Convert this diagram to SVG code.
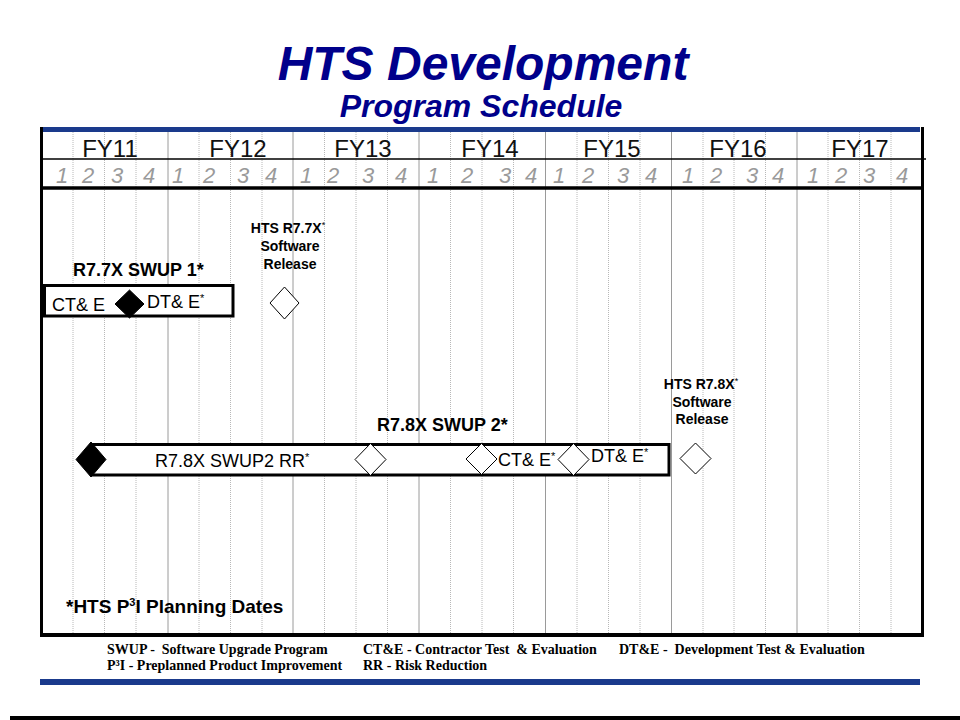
<svg xmlns="http://www.w3.org/2000/svg" width="960" height="720" viewBox="0 0 960 720">
<style>
.title{font-family:"Liberation Sans",Arial,sans-serif;font-weight:bold;font-style:italic;fill:#00008B;text-anchor:middle}
.fy{font-family:"Liberation Sans",Arial,sans-serif;font-size:24px;fill:#111;text-anchor:middle}
.q{font-family:"Liberation Sans",Arial,sans-serif;font-size:22px;font-style:italic;fill:#9a9a9a;text-anchor:middle}
.yl{stroke:#9a9a9a;stroke-width:1}
.ql{stroke:#b8b8b8;stroke-width:1;stroke-dasharray:1,1}
.bt{font-family:"Liberation Sans",Arial,sans-serif;font-weight:bold;font-size:18px;fill:#000}
.lab{font-family:"Liberation Sans",Arial,sans-serif;font-size:18px;fill:#000}
.ms{font-family:"Liberation Sans",Arial,sans-serif;font-weight:bold;font-size:14px;fill:#000;text-anchor:middle}
.leg{font-family:"Liberation Serif","Times New Roman",serif;font-weight:bold;font-size:14px;fill:#000;white-space:pre}
.box{fill:#fff;stroke:#000;stroke-width:3}
.wd{fill:#fff;stroke:#000;stroke-width:1}
.bd{fill:#000;stroke:#000;stroke-width:1}
</style>
<rect width="960" height="720" fill="#fff"/>
<g id="title">
<text class="title" x="483" y="80" font-size="48">HTS Development</text>
<text class="title" x="481" y="117" font-size="32">Program Schedule</text>
</g>
<g id="grid">
<line class="yl" x1="168" y1="132" x2="168" y2="633"/>
<line class="yl" x1="293" y1="132" x2="293" y2="633"/>
<line class="yl" x1="419" y1="132" x2="419" y2="633"/>
<line class="yl" x1="545.5" y1="132" x2="545.5" y2="633"/>
<line class="yl" x1="671.5" y1="132" x2="671.5" y2="633"/>
<line class="yl" x1="797" y1="132" x2="797" y2="633"/>
<g class="ql">
<line x1="73" y1="132" x2="73" y2="633"/><line x1="104.5" y1="132" x2="104.5" y2="633"/><line x1="136" y1="132" x2="136" y2="633"/>
<line x1="199" y1="132" x2="199" y2="633"/><line x1="230.5" y1="132" x2="230.5" y2="633"/><line x1="262" y1="132" x2="262" y2="633"/>
<line x1="324.5" y1="132" x2="324.5" y2="633"/><line x1="356" y1="132" x2="356" y2="633"/><line x1="387.5" y1="132" x2="387.5" y2="633"/>
<line x1="450.5" y1="132" x2="450.5" y2="633"/><line x1="482" y1="132" x2="482" y2="633"/><line x1="513.5" y1="132" x2="513.5" y2="633"/>
<line x1="577" y1="132" x2="577" y2="633"/><line x1="608.5" y1="132" x2="608.5" y2="633"/><line x1="640" y1="132" x2="640" y2="633"/>
<line x1="703" y1="132" x2="703" y2="633"/><line x1="734" y1="132" x2="734" y2="633"/><line x1="765.5" y1="132" x2="765.5" y2="633"/>
<line x1="828" y1="132" x2="828" y2="633"/><line x1="859.5" y1="132" x2="859.5" y2="633"/><line x1="891" y1="132" x2="891" y2="633"/>
</g>
</g>
<g id="frame">
<rect x="40" y="127" width="880" height="5" fill="#1a3a8c"/>
<rect x="40" y="127" width="3" height="510" fill="#000"/>
<rect x="921" y="127" width="3" height="510" fill="#000"/>
<rect x="40" y="633" width="884" height="4" fill="#000"/>
<line x1="40" y1="159" x2="926" y2="159" stroke="#000" stroke-width="1.5"/>
<line x1="40" y1="188" x2="924" y2="188" stroke="#000" stroke-width="3.5"/>
</g>
<g id="years">
<text class="fy" x="110" y="157">FY11</text>
<text class="fy" x="238" y="157">FY12</text>
<text class="fy" x="363" y="157">FY13</text>
<text class="fy" x="490" y="157">FY14</text>
<text class="fy" x="612" y="157">FY15</text>
<text class="fy" x="738" y="157">FY16</text>
<text class="fy" x="860" y="157">FY17</text>
</g>
<g id="quarters">
<text class="q" x="62" y="183">1</text><text class="q" x="88" y="183">2</text><text class="q" x="117" y="183">3</text><text class="q" x="149" y="183">4</text>
<text class="q" x="178" y="183">1</text><text class="q" x="209" y="183">2</text><text class="q" x="243" y="183">3</text><text class="q" x="271" y="183">4</text>
<text class="q" x="306" y="183">1</text><text class="q" x="333" y="183">2</text><text class="q" x="368" y="183">3</text><text class="q" x="401" y="183">4</text>
<text class="q" x="433" y="183">1</text><text class="q" x="467" y="183">2</text><text class="q" x="505" y="183">3</text><text class="q" x="531" y="183">4</text>
<text class="q" x="559" y="183">1</text><text class="q" x="588" y="183">2</text><text class="q" x="623" y="183">3</text><text class="q" x="651" y="183">4</text>
<text class="q" x="688" y="183">1</text><text class="q" x="716" y="183">2</text><text class="q" x="752" y="183">3</text><text class="q" x="778" y="183">4</text>
<text class="q" x="813" y="183">1</text><text class="q" x="841" y="183">2</text><text class="q" x="869" y="183">3</text><text class="q" x="902" y="183">4</text>
</g>
<g id="swup1">
<text class="bt" x="73" y="276">R7.7X SWUP 1*</text>
<rect class="box" x="44.5" y="285.5" width="188.5" height="30.5"/>
<text class="lab" x="52" y="311">CT&amp; E</text>
<polygon class="bd" points="129.5,290 144,304 129.5,318 115,304"/>
<text class="lab" x="147" y="308">DT&amp; E<tspan style="font-size:11px" dy="-6">*</tspan></text>
</g>
<g id="r77-release">
<text class="ms" x="288" y="233">HTS R7.7X<tspan style="font-size:9px;font-weight:normal" dy="-5">*</tspan></text>
<text class="ms" x="290" y="251">Software</text>
<text class="ms" x="290" y="269">Release</text>
<polygon class="wd" points="284.5,287 299,303 284.5,319 270,303"/>
</g>
<g id="swup2">
<text class="bt" x="377" y="431">R7.8X SWUP 2*</text>
<path class="box" d="M91,444.5 H669 V475 H91"/>
<polygon class="bd" points="91,442 106,459.5 91,477 76,459.5"/>
<text class="lab" x="155" y="467">R7.8X SWUP2 RR<tspan style="font-size:11px" dy="-6">*</tspan></text>
<polygon class="wd" points="370.5,443.5 386,459.5 370.5,475.5 355,459.5"/>
<polygon class="wd" points="481.5,443.5 497,459 481.5,474.5 466,459"/>
<text class="lab" x="498" y="466">CT&amp; E<tspan style="font-size:11px" dy="-6">*</tspan></text>
<polygon class="wd" points="573.5,443.5 589,459.5 573.5,475.5 558,459.5"/>
<text class="lab" x="591" y="462">DT&amp; E<tspan style="font-size:11px" dy="-6">*</tspan></text>
</g>
<g id="r78-release">
<text class="ms" x="701" y="389">HTS R7.8X<tspan style="font-size:9px;font-weight:normal" dy="-5">*</tspan></text>
<text class="ms" x="702" y="407">Software</text>
<text class="ms" x="702" y="424">Release</text>
<polygon class="wd" points="695.5,443 711,458.5 695.5,474 680,458.5"/>
</g>
<g id="note">
<text class="bt" x="66" y="613" style="font-size:19px">*HTS P<tspan style="font-size:11px" dy="-7">3</tspan><tspan dy="7">I Planning Dates</tspan></text>
</g>
<g id="legend">
<text class="leg" x="107" y="654">SWUP -  Software Upgrade Program</text>
<text class="leg" x="107" y="670">P³I - Preplanned Product Improvement</text>
<text class="leg" x="363" y="654">CT&amp;E - Contractor Test  &amp; Evaluation</text>
<text class="leg" x="363" y="670">RR - Risk Reduction</text>
<text class="leg" x="619" y="654">DT&amp;E -  Development Test &amp; Evaluation</text>
</g>
<g id="footer">
<rect x="40" y="679" width="880" height="6" fill="#1a3a8c"/>
<rect x="10" y="716" width="950" height="4" fill="#000"/>
</g>
</svg>
